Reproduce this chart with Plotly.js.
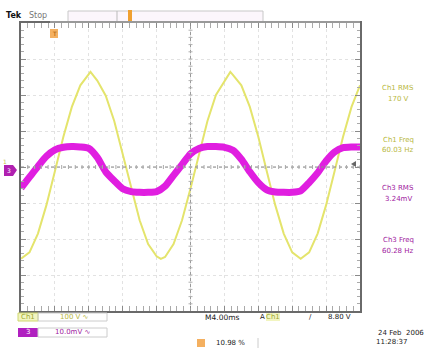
<!DOCTYPE html>
<html>
<head>
<meta charset="utf-8">
<script src="https://cdn.plot.ly/plotly-3.0.1.min.js"></script>
<style>html,body{margin:0;padding:0;background:#fff;}#chart{width:441px;height:350px;}</style>
</head>
<body>
<div id="chart"></div>
<script>
// ---- data (time in ms, 4 ms/div, 10 div) ----
const ch1Time = [0,1,2,3,4,5,6,7,8,8.2,9,10,11,12,13,14,15,16,16.5,17,18,19,20,21,22,23,24,24.7,25,26,27,28,29,30,31,32,33,34,35,36,37,38,39,40];
// Ch1 voltage (V), 100 V/div
const ch1Volts = [-255,-237,-185,-106,-12,84,167,227,258,264,240,198,128,36,-60,-148,-214,-248,-255,-250,-214,-148,-60,36,128,200,240,264,256,227,167,84,-12,-106,-185,-237,-255,-237,-185,-106,-12,84,167,227];
const ch3Time = [0,1,2,3,4,5,6,7,8,9,10,11,12,13,14,15,16,17,18,19,20,21,22,23,24,25,26,27,28,29,30,31,32,33,34,35,36,37,38,39,40];
// Ch3 signal (mV), 10 mV/div
const ch3mV = [-5.0,-2.0,1.0,3.8,5.6,6.3,6.5,6.4,6.0,3.5,-0.5,-3.0,-5.2,-6.0,-6.2,-6.2,-6.0,-4.5,-1.5,1.5,4.5,6.0,6.5,6.5,6.3,5.5,3.0,-0.5,-3.5,-5.5,-6.1,-6.2,-6.2,-5.8,-3.5,-0.8,2.5,5.0,6.2,6.4,6.4];
const measLabels = ["Ch1 RMS","170 V","Ch1 Freq","60.03 Hz","Ch3 RMS","3.24mV","Ch3 Freq","60.28 Hz"];
const scaleLabels = ["100 V \u223F","10.0mV \u223F"];
const timebaseLabel = "M4.00ms";
const triggerLabel = "8.80 V";
const posLabel = "10.98 %";
const dateLabels = ["24 Feb  2006","11:28:37"];

// ---- layout helpers (pixel -> paper) ----
const L=21,R=360,T=23,B=311;
const px = x => (x-L)/(R-L);
const py = y => (B-y)/(B-T);
const YEL='#e4e46c', MAG='#e01ee0';
const font = {family:'DejaVu Sans', size:7, color:'#222'};

const traces = [
  {x:ch1Time, y:ch1Volts, type:'scatter', mode:'lines', line:{color:YEL,width:2}, hoverinfo:'skip'},
  {x:ch3Time, y:ch3mV, yaxis:'y2', type:'scatter', mode:'lines', line:{color:MAG,width:7,shape:'spline',smoothing:0.6}, hoverinfo:'skip'}
];

const shapes = [];
// center cross (dotted)
shapes.push({type:'line',xref:'x',yref:'y',x0:0,x1:40,y0:0,y1:0,line:{color:'#8a8a8a',width:1,dash:'dot'}});
shapes.push({type:'line',xref:'x',yref:'y',x0:20,x1:20,y0:-400,y1:400,line:{color:'#9a9a9a',width:1,dash:'dot'}});
// ticks on center lines
for(let t=0.8;t<40;t+=0.8){shapes.push({type:'line',xref:'x',yref:'y',ysizemode:'pixel',yanchor:0,x0:t,x1:t,y0:-2,y1:2,line:{color:'#aaa',width:1}});}
for(let v=-380;v<400;v+=20){shapes.push({type:'line',xref:'x',yref:'y',xsizemode:'pixel',xanchor:20,y0:v,y1:v,x0:-2,x1:2,line:{color:'#b0b0b0',width:1}});}
// top record bar
shapes.push({type:'rect',xref:'paper',yref:'paper',x0:px(68),x1:px(263),y0:py(22),y1:py(11),line:{color:'#c8c8c8',width:1},fillcolor:'rgba(250,240,250,0.6)'});
shapes.push({type:'line',xref:'paper',yref:'paper',x0:px(117),x1:px(117),y0:py(22),y1:py(11),line:{color:'#bbb',width:1}});
shapes.push({type:'rect',xref:'paper',yref:'paper',x0:px(128),x1:px(132),y0:py(22),y1:py(10),line:{width:0},fillcolor:'#f0a030'});
shapes.push({type:'line',xref:'paper',yref:'paper',x0:px(50),x1:px(360),y0:py(22),y1:py(22),line:{color:'#999',width:2}});
// trigger position marker
shapes.push({type:'rect',xref:'paper',yref:'paper',x0:px(50),x1:px(58),y0:py(38),y1:py(29),line:{width:0},fillcolor:'#f4b060'});
// ground marker ch3
shapes.push({type:'path',xref:'paper',yref:'paper',path:`M ${px(4)} ${py(165)} L ${px(13)} ${py(165)} L ${px(17)} ${py(170)} L ${px(13)} ${py(176)} L ${px(4)} ${py(176)} Z`,line:{width:0},fillcolor:'#b020b0'});
// trigger level arrow (right)
shapes.push({type:'path',xref:'paper',yref:'paper',path:`M ${px(351)} ${py(164)} L ${px(356)} ${py(161)} L ${px(356)} ${py(167)} Z`,line:{width:0},fillcolor:'#666'});
// bottom boxes
shapes.push({type:'rect',xref:'paper',yref:'paper',x0:px(18),x1:px(38),y0:py(321),y1:py(313),line:{color:'#cfd870',width:1},fillcolor:'#f2f5c0'});
shapes.push({type:'rect',xref:'paper',yref:'paper',x0:px(38),x1:px(107),y0:py(321),y1:py(313),line:{color:'#ccc',width:1},fillcolor:'rgba(0,0,0,0)'});
shapes.push({type:'rect',xref:'paper',yref:'paper',x0:px(18),x1:px(38),y0:py(337),y1:py(328),line:{width:0},fillcolor:'#b020c0'});
shapes.push({type:'rect',xref:'paper',yref:'paper',x0:px(38),x1:px(107),y0:py(337),y1:py(328),line:{color:'#ccc',width:1},fillcolor:'rgba(0,0,0,0)'});
shapes.push({type:'rect',xref:'paper',yref:'paper',x0:px(266),x1:px(280),y0:py(321),y1:py(313),line:{width:0},fillcolor:'#f2f5c0'});
shapes.push({type:'rect',xref:'paper',yref:'paper',x0:px(197),x1:px(205),y0:py(347),y1:py(339),line:{width:0},fillcolor:'#f4b060'});
shapes.push({type:'line',xref:'paper',yref:'paper',x0:px(258),x1:px(258),y0:py(348),y1:py(338),line:{color:'#ccc',width:1}});

function ann(text,x,y,color,opts){return Object.assign({text:text,xref:'paper',yref:'paper',x:px(x),y:py(y),showarrow:false,xanchor:'center',yanchor:'middle',font:Object.assign({},font,{color:color})},opts||{});}
const annotations = [
  ann('<b>Tek</b>',14,15,'#111',{font:{family:'DejaVu Sans',size:8,color:'#111'}}),
  ann('Stop',38,15,'#777',{font:{family:'DejaVu Sans',size:8,color:'#777'}}),
  ann('T',54,33,'#c06000',{font:{family:'DejaVu Sans',size:6,color:'#a05000'}}),
  ann('3',9,170,'#fff',{font:{family:'DejaVu Sans',size:6,color:'#fff'}}),
  ann('1',5,161,'#c8c850',{font:{family:'DejaVu Sans',size:6,color:'#c8c850'}}),
  ann(measLabels[0],398,88,'#b8b840'),
  ann(measLabels[1],398,99,'#b8b840'),
  ann(measLabels[2],398,140,'#b8b840'),
  ann(measLabels[3],398,150,'#b8b840'),
  ann(measLabels[4],398,188,'#a020a0'),
  ann(measLabels[5],398,199,'#a020a0'),
  ann(measLabels[6],398,240,'#a020a0'),
  ann(measLabels[7],398,251,'#a020a0'),
  ann('Ch1',28,317,'#a0a830'),
  ann(scaleLabels[0],74,317,'#b8b840'),
  ann('3',28,332,'#fff'),
  ann(scaleLabels[1],72,332,'#a020a0'),
  ann(timebaseLabel,222,317,'#222',{font:{family:'DejaVu Sans',size:7.5,color:'#222'}}),
  ann('A',262,317,'#222'),
  ann('Ch1',273,317,'#a0a830'),
  ann('\u2215',310,317,'#222'),
  ann(triggerLabel,339,317,'#222'),
  ann(posLabel,230,343,'#222'),
  ann(dateLabels[0],401,333,'#222'),
  ann(dateLabels[1],391,342,'#222')
];

const layout = {
  width:441, height:350,
  margin:{l:L,r:441-R,t:T,b:350-B,pad:0},
  paper_bgcolor:'#ffffff', plot_bgcolor:'#ffffff',
  showlegend:false,
  xaxis:{range:[0,40],dtick:4,showgrid:true,gridcolor:'#e2e2e2',griddash:'dot',gridwidth:1,zeroline:false,
         showticklabels:false,showline:true,mirror:'allticks',linecolor:'#6a6a6a',linewidth:2,
         ticks:'inside',ticklen:5,tickcolor:'#8a8a8a',
         minor:{dtick:0.8,ticks:'inside',ticklen:3,tickcolor:'#aaaaaa',showgrid:false},fixedrange:true},
  yaxis:{range:[-400,400],dtick:100,showgrid:true,gridcolor:'#e2e2e2',griddash:'dot',gridwidth:1,zeroline:false,
         showticklabels:false,showline:true,mirror:'allticks',linecolor:'#6a6a6a',linewidth:2,
         ticks:'inside',ticklen:5,tickcolor:'#8a8a8a',
         minor:{dtick:20,ticks:'inside',ticklen:3,tickcolor:'#aaaaaa',showgrid:false},fixedrange:true},
  yaxis2:{range:[-39.17,40.83],overlaying:'y',visible:false,showgrid:false,zeroline:false,fixedrange:true},
  shapes:shapes, annotations:annotations
};
Plotly.newPlot('chart',traces,layout,{staticPlot:true,displayModeBar:false});
</script>
</body>
</html>
